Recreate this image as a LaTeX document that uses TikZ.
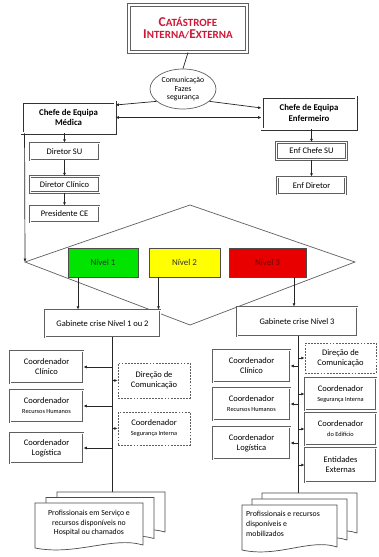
\documentclass[tikz,border=0pt]{standalone}
\usepackage{fontspec}
\setmainfont{Carlito}
\usetikzlibrary{shapes.geometric,arrows.meta,calc}

\definecolor{catred}{RGB}{205,25,55}
\definecolor{lvgreen}{RGB}{0,228,0}
\definecolor{lvyellow}{RGB}{255,255,0}
\definecolor{lvred}{RGB}{232,0,0}
\definecolor{edgegray}{RGB}{95,95,95}

% fake small caps: large initial, smaller rest
\newcommand\capsword[2]{{\fontsize{13.5}{16}\selectfont #1}{\fontsize{11}{16}\selectfont #2}}
% one stacked sheet of a document pile: x, y, width, height
\newcommand\docsheet[4]{%
  \filldraw[sheetline] (#1,#2) -- (#1+#3,#2) -- (#1+#3,#2+#4)
    .. controls (#1+0.72*#3,#2+#4-9) and (#1+0.38*#3,#2+#4+11) .. (#1,#2+#4+3) -- cycle;}
\newcommand\smalltxt[1]{{\fontsize{6.3}{7}\selectfont #1}}

\tikzset{
  box/.style={draw=edgegray, double=white, double distance=0.9pt, line width=0.7pt,
    fill=white, align=center, inner sep=1pt, font=\fontsize{8.5}{10}\selectfont},
  chefe/.style={box, draw=black!80, double distance=1.2pt, line width=0.9pt,
    font=\bfseries\fontsize{8.8}{10.5}\selectfont},
  topbox/.style={draw=edgegray, double=white, double distance=1.2pt, line width=1.1pt,
    fill=white, align=center, inner sep=1pt, font=\bfseries},
  dbox/.style={draw=edgegray, dash pattern=on 1.8pt off 1.3pt, line width=0.7pt,
    fill=white, align=center, inner sep=1pt, font=\fontsize{8.5}{10}\selectfont},
  level/.style={draw=black!70, line width=0.7pt, minimum height=29pt,
    font=\fontsize{9}{10}\selectfont},
  conn/.style={draw=black!85, line width=0.7pt, -{Latex[length=3.4pt,width=3pt]}},
  plainline/.style={draw=black!85, line width=0.7pt},
  sheetline/.style={draw=black!70, line width=0.7pt, fill=white},
  doctext/.style={font=\fontsize{7.8}{9.8}\selectfont, inner sep=0pt}
}

\begin{document}
\begin{tikzpicture}[x=1pt,y=-1pt]
\useasboundingbox (0,0) rectangle (378,557);
\fill[white] (0,0) rectangle (378,557);

% --- top of the chain
\node[topbox, minimum width=118pt, minimum height=47pt] (top) at (188,28.5)
  {\color{catred}\capsword{C}{ATÁSTROFE}\\\color{catred}\capsword{I}{NTERNA}/\capsword{E}{XTERNA}};
\node[ellipse, draw=edgegray, line width=0.7pt, fill=white, minimum width=66pt, minimum height=40pt,
  inner sep=0pt, align=center, font=\fontsize{7.8}{8.8}\selectfont] (ell) at (183,89)
  {Comunicação\\Fazes\\segurança};
\node[chefe, minimum width=93pt, minimum height=31pt] (chM) at (68.5,117.5) {Chefe de Equipa\\Médica};
\node[chefe, minimum width=94pt, minimum height=32pt] (chE) at (309,113) {Chefe de Equipa\\Enfermeiro};

% --- medical and nursing lines
\node[box, minimum width=69pt, minimum height=17pt] (dsu) at (64.5,151.5) {Diretor SU};
\node[box, minimum width=69pt, minimum height=16pt] (dcl) at (64.5,184.5) {Diretor Clínico};
\node[box, minimum width=69pt, minimum height=16pt] (pce) at (64.5,214) {Presidente CE};
\node[box, minimum width=70pt, minimum height=17pt] (ecs) at (311.5,151) {Enf Chefe SU};
\node[box, minimum width=68pt, minimum height=17pt] (edir) at (311.5,185.5) {Enf Diretor};

\draw[plainline] (top.south) -- (ell.north);
\draw[conn] (ell.205) -- ([yshift=12.5pt]chM.east);
\draw[conn] (ell.-25) -- ([yshift=5pt]chE.west);
\draw[conn, {Latex[length=3.4pt,width=3pt]}-{Latex[length=3.4pt,width=3pt]}] (chM.east) -- (chM.east -| chE.west);
\draw[conn] (chM.south -| dsu.north) -- (dsu.north);
\draw[conn] (dsu) -- (dcl);
\draw[conn] (dcl) -- (pce);
\draw[conn] (chE.south -| ecs.north) -- (ecs.north);
\draw[conn] (ecs) -- (edir);

% --- decision diamond with the three levels
\coordinate (dl) at (25,262);
\coordinate (dt) at (190,205);
\coordinate (dr) at (355,262);
\coordinate (db) at (190,325);
\draw[plainline, draw=edgegray] (dl) -- (dt) -- (dr) -- (db) -- cycle;
\coordinate (lt) at ([xshift=3pt]chM.south west);
\draw[conn] (lt) -- (dl);

\node[level, fill=lvgreen, minimum width=70pt, text=black!80] (n1) at (103,262.5) {Nível 1};
\node[level, fill=lvyellow, minimum width=71pt, text=black!80] (n2) at (184.5,262.5) {Nível 2};
\node[level, fill=lvred, minimum width=77pt, text=red!45!black] (n3) at (267.5,262.5) {Nível 3};

\node[box, minimum width=115pt, minimum height=27pt] (gL) at (102.5,323.5) {Gabinete crise Nível 1 ou 2};
\node[box, minimum width=120pt, minimum height=29pt] (gR) at (297,321.5) {Gabinete crise Nível 3};

\draw[conn] ([xshift=-25pt]n1.south) -- ([xshift=-25pt]n1.south |- gL.north);
\draw[conn] ([xshift=-26pt]n2.south) -- ([xshift=-26pt]n2.south |- gL.north);
\draw[conn] ([xshift=26.5pt]n3.south) -- ([xshift=26.5pt]n3.south |- gR.north);

% --- level 1/2 crisis office
\node[box, minimum width=73pt, minimum height=32pt] (cc1) at (46.5,367) {Coordenador\\Clínico};
\node[box, minimum width=73pt, minimum height=32pt] (rh1) at (46.5,406) {Coordenador\\\smalltxt{Recursos Humanos}};
\node[box, minimum width=73pt, minimum height=30pt] (lg1) at (46.5,448) {Coordenador\\Logística};
\node[dbox, minimum width=72pt, minimum height=35pt] (dc1) at (154,380.5) {Direção de\\Comunicação};
\node[dbox, minimum width=72pt, minimum height=33pt] (si1) at (154,428.5) {Coordenador\\\smalltxt{Segurança Interna}};

\coordinate (docL) at (112,492);
\draw[plainline] (gL.south -| docL) -- (docL);
\foreach \b in {cc1,rh1,lg1} \draw[conn] (\b.east -| docL) -- (\b.east);
\foreach \b in {dc1,si1} \draw[conn] (\b.west -| docL) -- (\b.west);

% --- level 3 crisis office
\node[box, minimum width=77pt, minimum height=32pt] (cc2) at (251.5,366) {Coordenador\\Clínico};
\node[box, minimum width=77pt, minimum height=32pt] (rh2) at (251.5,404) {Coordenador\\\smalltxt{Recursos Humanos}};
\node[box, minimum width=77pt, minimum height=32pt] (lg2) at (251.5,443) {Coordenador\\Logística};
\node[dbox, minimum width=71pt, minimum height=30pt] (dc2) at (340.5,358) {Direção de\\Comunicação};
\node[box, minimum width=71pt, minimum height=32pt] (si2) at (340.5,394) {Coordenador\\\smalltxt{Segurança Interna}};
\node[box, minimum width=71pt, minimum height=32pt] (ed2) at (340.5,429) {Coordenador\\\smalltxt{do Edifício}};
\node[box, minimum width=71pt, minimum height=34pt] (ee2) at (340.5,465) {Entidades\\Externas};

\coordinate (docR) at (298,493);
\draw[plainline] (gR.south -| docR) -- (docR);
\foreach \b in {cc2,rh2,lg2} \draw[conn] (\b.east -| docR) -- (\b.east);
\foreach \b in {dc2,si2,ed2,ee2} \draw[conn] (\b.west -| docR) -- (\b.west);

% --- document piles
\docsheet{57}{492}{108}{40}
\docsheet{46}{497.5}{108}{41}
\docsheet{35}{503}{108}{42}
\node[doctext, align=center] (txL) at (89,523) {Profissionais em Serviço e\\recursos disponíveis no\\Hospital ou chamados};

\docsheet{262}{493}{95}{40}
\docsheet{252}{499}{95}{41}
\docsheet{242}{505}{95}{42}
\node[doctext, align=left, anchor=west] (txR) at (246,524) {Profissionais e recursos\\disponíveis e\\mobilizados};
\end{tikzpicture}
\end{document}
